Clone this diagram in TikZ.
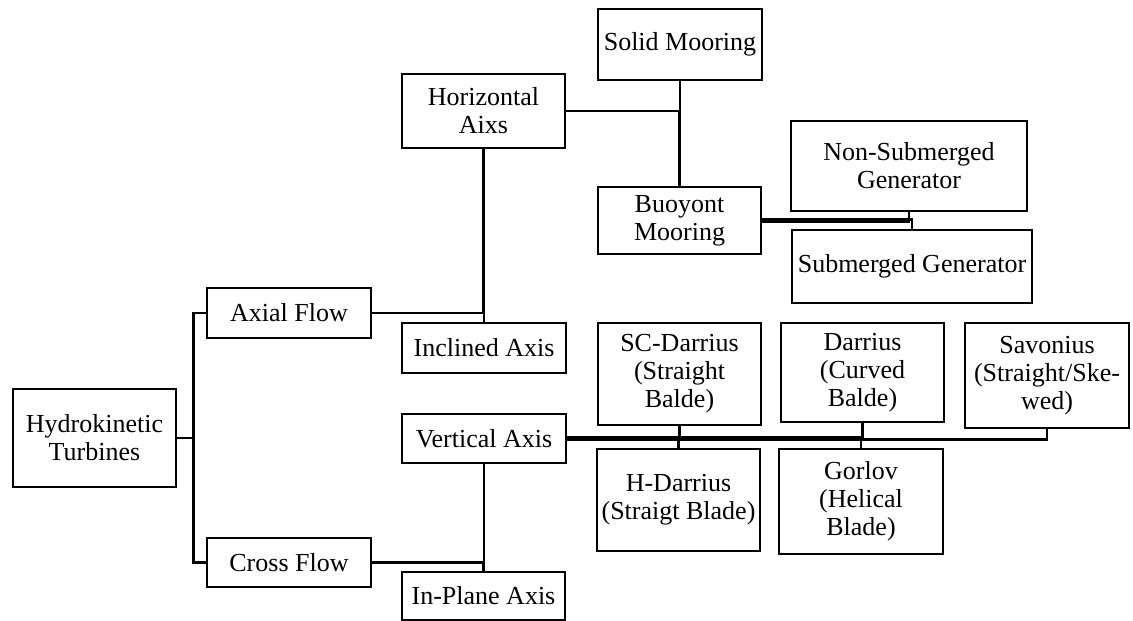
\documentclass[tikz,border=0pt]{standalone}
\usepackage{fontspec}
\setmainfont{Liberation Serif}
\begin{document}
\begin{tikzpicture}[x=1pt,y=-1pt,
  box/.style={draw,line width=2.5pt,inner sep=0pt,align=center,
    font=\fontsize{26}{28}\selectfont},
  link/.style={line width=2.5pt}]
\useasboundingbox (0,0) rectangle (1133,621);
\node[box,minimum width=163,minimum height=98] (ht) at (94.5,438) {Hydrokinetic\\Turbines};
\node[box,minimum width=164,minimum height=50] (af) at (289,313) {Axial Flow};
\node[box,minimum width=164,minimum height=49] (cf) at (289,562.5) {Cross Flow};
\node[box,minimum width=163,minimum height=74] (hz) at (483.5,111) {Horizontal\\Aixs};
\node[box,minimum width=164,minimum height=71] (sm) at (680,44.5) {Solid Mooring};
\node[box,minimum width=163,minimum height=67] (bm) at (679.5,220.5) {Buoyont\\Mooring};
\node[box,minimum width=236,minimum height=90] (ns) at (909,166) {Non-Submerged\\Generator};
\node[box,minimum width=240,minimum height=73] (sg) at (912,266.5) {Submerged Generator};
\node[box,minimum width=164,minimum height=50] (ia) at (484,348) {Inclined Axis};
\node[box,minimum width=164,minimum height=49] (va) at (484,438.5) {Vertical Axis};
\node[box,minimum width=163,minimum height=48] (ip) at (483.5,596) {In-Plane Axis};
\node[box,minimum width=163,minimum height=102] (sc) at (679.5,374) {SC-Darrius\\(Straight\\Balde)};
\node[box,minimum width=163,minimum height=99] (dr) at (862.5,372.5) {Darrius\\(Curved\\Balde)};
\node[box,minimum width=164,minimum height=105] (sv) at (1047,375.5) {Savonius\\(Straight/Ske-\\wed)};
\node[box,minimum width=163,minimum height=102] (hd) at (678.5,500) {H-Darrius\\(Straigt Blade)};
\node[box,minimum width=164,minimum height=105] (gv) at (861,501.5) {Gorlov\\(Helical\\Blade)};
% connectors
\draw[link] (ht.east) -- ++(16,0) |- (af.west);
\draw[link] (ht.east) -- ++(16,0) |- (cf.west);
\draw[link] (af.east) -| (hz.south);
\draw[link] (af.east) -| (ia.north);
\draw[link] (cf.east) -| (va.south);
\draw[link] (cf.east) -| (ip.north);
\draw[link] (hz.east) -| (sm.south);
\draw[link] (hz.east) -| (bm.north);
\draw[link] ([yshift=-1pt]bm.east) -| (ns.south);
\draw[link] ([yshift=1pt]bm.east) -| (sg.north);
\draw[link] ([yshift=1pt]va.east) -| (sc.south);
\draw[link] ([yshift=1pt]va.east) -| (hd.north);
\draw[link] ([yshift=1pt]va.east) -| (dr.south);
\draw[link] ([yshift=1pt]va.east) -| (gv.north);
\draw[link] ([yshift=-1pt]va.east) -| (sv.south);
\end{tikzpicture}
\end{document}
